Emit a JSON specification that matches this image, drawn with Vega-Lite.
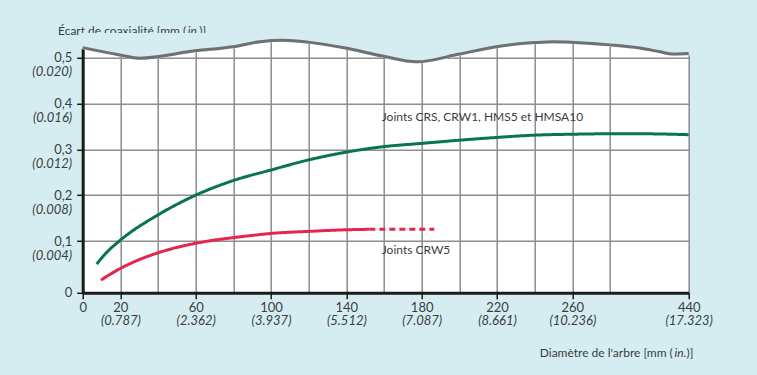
{
  "$schema": "https://vega.github.io/schema/vega-lite/v6.json",
  "width": 606,
  "height": 258,
  "autosize": {"type": "none"},
  "padding": {"left": 82.7, "top": 34.8, "right": 68.3, "bottom": 82.2},
  "background": "#d5edf0",
  "view": {"stroke": null, "fill": "#ffffff"},
  "config": {
    "axis": {
      "labelFont": "Lato", "labelFontSize": 13, "labelColor": "#3a3d40",
      "titleFont": "Lato", "titleFontSize": 12, "titleFontWeight": "normal", "titleColor": "#3a3d40"
    },
    "text": {"font": "Lato"}
  },
  "datasets": {
    "wave": [
      {"d": 0, "e": 0.522}, {"d": 19.8, "e": 0.506}, {"d": 30.4, "e": 0.499}, {"d": 59.6, "e": 0.515},
      {"d": 79.7, "e": 0.524}, {"d": 94.1, "e": 0.535}, {"d": 106.4, "e": 0.538}, {"d": 119.7, "e": 0.534},
      {"d": 139.7, "e": 0.521}, {"d": 159.8, "e": 0.503}, {"d": 177.4, "e": 0.491}, {"d": 200, "e": 0.508},
      {"d": 219.5, "e": 0.524}, {"d": 240, "e": 0.533}, {"d": 249.7, "e": 0.535}, {"d": 259.5, "e": 0.534},
      {"d": 280, "e": 0.528}, {"d": 341, "e": 0.521}, {"d": 381.7, "e": 0.513}, {"d": 408, "e": 0.508},
      {"d": 440, "e": 0.509}
    ],
    "curves": [
      {"series": "Joints CRS, CRW1, HMS5 et HMSA10", "d": 7.4, "e": 0.0555},
      {"series": "Joints CRS, CRW1, HMS5 et HMSA10", "d": 13, "e": 0.079},
      {"series": "Joints CRS, CRW1, HMS5 et HMSA10", "d": 20, "e": 0.102},
      {"series": "Joints CRS, CRW1, HMS5 et HMSA10", "d": 40, "e": 0.157},
      {"series": "Joints CRS, CRW1, HMS5 et HMSA10", "d": 60, "e": 0.2},
      {"series": "Joints CRS, CRW1, HMS5 et HMSA10", "d": 80, "e": 0.232},
      {"series": "Joints CRS, CRW1, HMS5 et HMSA10", "d": 100, "e": 0.255},
      {"series": "Joints CRS, CRW1, HMS5 et HMSA10", "d": 120, "e": 0.277},
      {"series": "Joints CRS, CRW1, HMS5 et HMSA10", "d": 140, "e": 0.294},
      {"series": "Joints CRS, CRW1, HMS5 et HMSA10", "d": 160, "e": 0.306},
      {"series": "Joints CRS, CRW1, HMS5 et HMSA10", "d": 180, "e": 0.313},
      {"series": "Joints CRS, CRW1, HMS5 et HMSA10", "d": 200, "e": 0.32},
      {"series": "Joints CRS, CRW1, HMS5 et HMSA10", "d": 220, "e": 0.326},
      {"series": "Joints CRS, CRW1, HMS5 et HMSA10", "d": 240, "e": 0.331},
      {"series": "Joints CRS, CRW1, HMS5 et HMSA10", "d": 260, "e": 0.333},
      {"series": "Joints CRS, CRW1, HMS5 et HMSA10", "d": 280, "e": 0.334},
      {"series": "Joints CRS, CRW1, HMS5 et HMSA10", "d": 341, "e": 0.334},
      {"series": "Joints CRS, CRW1, HMS5 et HMSA10", "d": 440, "e": 0.332},
      {"series": "Joints CRW5", "d": 9.7, "e": 0.0246},
      {"series": "Joints CRW5", "d": 20, "e": 0.047},
      {"series": "Joints CRW5", "d": 30, "e": 0.064},
      {"series": "Joints CRW5", "d": 40, "e": 0.0772},
      {"series": "Joints CRW5", "d": 50, "e": 0.0876},
      {"series": "Joints CRW5", "d": 60, "e": 0.0956},
      {"series": "Joints CRW5", "d": 70, "e": 0.102},
      {"series": "Joints CRW5", "d": 80, "e": 0.1074},
      {"series": "Joints CRW5", "d": 90, "e": 0.1122},
      {"series": "Joints CRW5", "d": 100, "e": 0.1165},
      {"series": "Joints CRW5", "d": 120, "e": 0.121},
      {"series": "Joints CRW5", "d": 140, "e": 0.1245},
      {"series": "Joints CRW5", "d": 152.2, "e": 0.1255},
      {"series": "Joints CRW5 (pointillés)", "d": 152.2, "e": 0.1255},
      {"series": "Joints CRW5 (pointillés)", "d": 186.7, "e": 0.1255}
    ],
    "labels": [
      {"d": 158.8, "e": 0.371, "text": "Joints CRS, CRW1, HMS5 et HMSA10"},
      {"d": 158.8, "e": 0.0826, "text": "Joints CRW5"}
    ]
  },
  "resolve": {"axis": {"x": "independent", "y": "independent"}},
  "layer": [
    {
      "data": {"name": "wave"},
      "mark": {"type": "area", "fill": "#d5edf0", "stroke": "#d5edf0", "strokeWidth": 3.5, "interpolate": "monotone"},
      "encoding": {
        "x": {
          "field": "d", "type": "quantitative",
          "scale": {"domain": [0, 280, 440], "range": [0, 527.3, 606], "nice": false, "zero": false},
          "axis": {
            "orient": "bottom",
            "values": [0, 20, 40, 60, 80, 100, 120, 140, 160, 180, 200, 220, 240, 260, 280, 440],
            "grid": true, "gridColor": "#8d8d8d", "gridWidth": 1.5,
            "gridOpacity": {"condition": {"test": "datum.value == 0", "value": 0}, "value": 1},
            "domain": true, "domainColor": "#1b1b1b", "domainWidth": 3,
            "ticks": true, "tickSize": 6, "tickWidth": 1.5, "tickColor": "#1b1b1b",
            "tickOpacity": {"condition": {"test": "indexof([0,20,60,100,140,180,220,260,440], datum.value) < 0", "value": 0}, "value": 1},
            "labelExpr": "indexof([0,20,60,100,140,180,220,260,440], datum.value) >= 0 ? datum.label : ''",
            "labelPadding": 3, "labelFlush": false, "labelOverlap": false,
            "title": "Diamètre de l'arbre [mm (",
            "titleX": 589.6, "titleY": 59.3, "titleAlign": "right", "titleBaseline": "middle"
          }
        },
        "y": {
          "field": "e", "type": "quantitative",
          "scale": {"domain": [0, 0.1, 0.55], "range": [258, 206.2, 0], "nice": false, "zero": false},
          "axis": {
            "orient": "left",
            "values": [0, 0.1, 0.2, 0.3, 0.4, 0.5],
            "grid": true, "gridColor": "#8d8d8d", "gridWidth": 1.5,
            "gridOpacity": {"condition": {"test": "datum.value == 0", "value": 0}, "value": 1},
            "domain": true, "domainColor": "#1b1b1b", "domainWidth": 3,
            "ticks": true, "tickSize": 6, "tickWidth": 1.5, "tickColor": "#1b1b1b",
            "labelExpr": "datum.value == 0 ? '0' : replace(format(datum.value, '.1f'), '.', ',')",
            "labelPadding": 5, "labelFlush": false, "labelOverlap": false,
            "title": "Écart de coaxialité [mm (",
            "titleAngle": 0, "titleX": 103, "titleY": -4.3, "titleAlign": "right", "titleBaseline": "middle"
          }
        },
        "y2": {"datum": 0.55}
      }
    },
    {
      "data": {"name": "wave"},
      "mark": {"type": "line", "color": "#6f7072", "strokeWidth": 3, "interpolate": "monotone"},
      "encoding": {
        "x": {
          "field": "d", "type": "quantitative",
          "axis": {
            "orient": "bottom",
            "values": [20, 60, 100, 140, 180, 220, 260, 440],
            "grid": false, "domain": false, "ticks": false,
            "labelExpr": "'(' + format(datum.value / 25.4, '.3f') + ')'",
            "labelFontStyle": "italic", "labelPadding": 22, "labelFlush": false, "labelOverlap": false,
            "title": "in.", "titleFontStyle": "italic",
            "titleX": 591.4, "titleY": 59.3, "titleAlign": "left", "titleBaseline": "middle"
          }
        },
        "y": {
          "field": "e", "type": "quantitative",
          "axis": {
            "orient": "left",
            "values": [0.1, 0.2, 0.3, 0.4, 0.5],
            "grid": false, "domain": false, "ticks": false,
            "labelExpr": "'(' + format(datum.value / 25.4, '.3f') + ')'",
            "labelFontStyle": "italic", "labelPadding": 11, "labelOffset": 14, "labelFlush": false, "labelOverlap": false,
            "title": "in.", "titleFontStyle": "italic",
            "titleAngle": 0, "titleX": 104.6, "titleY": -4.3, "titleAlign": "left", "titleBaseline": "middle"
          }
        }
      }
    },
    {
      "data": {"name": "curves"},
      "mark": {"type": "line", "strokeWidth": 3, "interpolate": "monotone"},
      "encoding": {
        "x": {
          "field": "d", "type": "quantitative",
          "axis": {
            "orient": "bottom", "labels": false, "ticks": false, "domain": false, "grid": false,
            "title": ")]", "titleX": 603.4, "titleY": 59.3, "titleAlign": "left", "titleBaseline": "middle"
          }
        },
        "y": {
          "field": "e", "type": "quantitative",
          "axis": {
            "orient": "left", "labels": false, "ticks": false, "domain": false, "grid": false,
            "title": ")]", "titleAngle": 0, "titleX": 116, "titleY": -4.3, "titleAlign": "left", "titleBaseline": "middle"
          }
        },
        "color": {
          "field": "series", "type": "nominal", "legend": null,
          "scale": {
            "domain": ["Joints CRS, CRW1, HMS5 et HMSA10", "Joints CRW5", "Joints CRW5 (pointillés)"],
            "range": ["#0a7350", "#e2264d", "#e2264d"]
          }
        },
        "strokeDash": {
          "field": "series", "type": "nominal", "legend": null,
          "scale": {
            "domain": ["Joints CRS, CRW1, HMS5 et HMSA10", "Joints CRW5", "Joints CRW5 (pointillés)"],
            "range": [[1, 0], [1, 0], [6, 4]]
          }
        }
      }
    },
    {
      "data": {"name": "labels"},
      "mark": {"type": "text", "align": "left", "baseline": "middle", "fontSize": 12, "color": "#3a3d40", "font": "Lato"},
      "encoding": {
        "x": {"field": "d", "type": "quantitative", "axis": null},
        "y": {"field": "e", "type": "quantitative", "axis": null},
        "text": {"field": "text"}
      }
    }
  ]
}
